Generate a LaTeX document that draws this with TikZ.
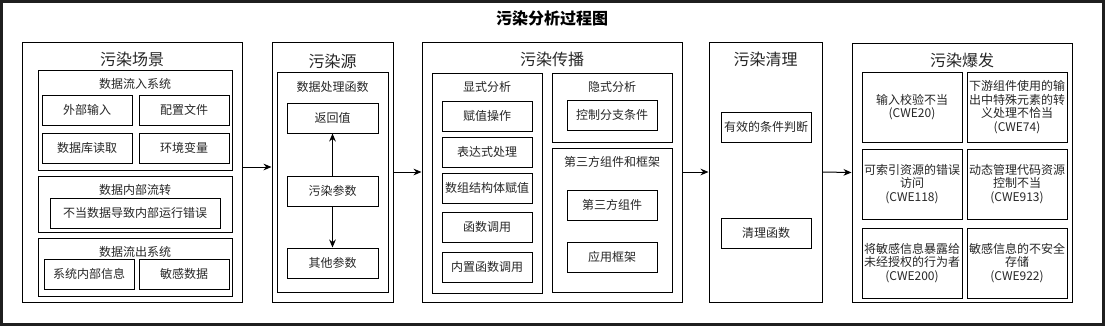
\documentclass[tikz,border=0pt]{standalone}
\usepackage{fontspec}
\setmainfont{Noto Sans CJK SC}
\usetikzlibrary{arrows.meta}
\begin{document}
\begin{tikzpicture}[x=0.75pt,y=-0.75pt,
  box/.style={draw=black, line width=0.75pt, inner sep=0pt, align=center, font=\fontsize{9pt}{10.3pt}\selectfont, text=black!85},
  sz/.style 2 args={minimum width=#1*0.75pt, minimum height=#2*0.75pt},
  lbl/.style={inner sep=0pt, font=\fontsize{9pt}{10.5pt}\selectfont, text=black!85},
  ttl/.style={inner sep=0pt, font=\fontsize{12pt}{14pt}\selectfont, text=black!85},
  arr/.style={-{Stealth[length=6pt,width=5pt]}, line width=0.75pt}]
\useasboundingbox (0,0) rectangle (1105,326);
\draw[line width=2.4pt, color=black!88] (1.6,1.6) rectangle (1103.2,324.2);
\node[inner sep=0pt, font=\bfseries\fontsize{12pt}{14pt}\selectfont] (title) at (552,18) {污染分析过程图};

% Section 1
\node[box, sz={220}{260}] (S1) at (132,172) {};
\node[ttl] (t1) at (132,59) {污染场景};
\node[box, sz={194}{100}] (A) at (135,120) {};
\node[lbl] (la) at (135,84) {数据流入系统};
\node[box, sz={90}{30}] (a1) at (87,110) {外部输入};
\node[box, sz={90}{30}] (a2) at (184,110) {配置文件};
\node[box, sz={90}{30}] (a3) at (87,148) {数据库读取};
\node[box, sz={90}{30}] (a4) at (184,148) {环境变量};
\node[box, sz={194}{56}] (B) at (135,204) {};
\node[lbl] (lb) at (135,190) {数据内部流转};
\node[box, sz={170}{30}] (b1) at (135,213) {不当数据导致内部运行错误};
\node[box, sz={194}{58}] (C) at (135,267) {};
\node[lbl] (lc) at (135,252) {数据流出系统};
\node[box, sz={90}{30}] (c1) at (89,274) {系统内部信息};
\node[box, sz={90}{30}] (c2) at (184,274) {敏感数据};

% Section 2
\node[box, sz={121}{260}] (S2) at (332.5,172) {};
\node[ttl] (t2) at (332.5,61) {污染源};
\node[box, sz={111}{220}] (D) at (332.5,182) {};
\node[lbl] (ld) at (332.5,87) {数据处理函数};
\node[box, sz={91}{30}] (d1) at (332.5,118) {返回值};
\node[box, sz={91}{30}] (d2) at (332.5,191) {污染参数};
\node[box, sz={91}{30}] (d3) at (332.5,263) {其他参数};
\draw[arr] (d2) -- (d1);
\draw[arr] (d2) -- (d3);

% Section 3
\node[box, sz={260}{260}] (S3) at (552,172) {};
\node[ttl] (t3) at (552,59) {污染传播};
\node[box, sz={110}{220}] (E) at (487,183) {};
\node[lbl] (le) at (487,87) {显式分析};
\node[box, sz={90}{30}] (e1) at (487,116) {赋值操作};
\node[box, sz={90}{30}] (e2) at (487,152) {表达式处理};
\node[box, sz={90}{30}] (e3) at (487,188) {数组结构体赋值};
\node[box, sz={90}{30}] (e4) at (487,227) {函数调用};
\node[box, sz={90}{30}] (e5) at (487,267) {内置函数调用};
\node[box, sz={120}{69}] (F) at (612,107.5) {};
\node[lbl] (lf) at (612,87) {隐式分析};
\node[box, sz={90}{30}] (f1) at (612,115) {控制分支条件};
\node[box, sz={120}{144}] (G) at (612,220) {};
\node[lbl] (lg) at (612,162) {第三方组件和框架};
\node[box, sz={90}{30}] (g1) at (612,205) {第三方组件};
\node[box, sz={90}{30}] (g2) at (612,257) {应用框架};

% Section 4
\node[box, sz={113}{260}] (S4) at (765.5,172) {};
\node[ttl] (t4) at (765.5,59) {污染清理};
\node[box, sz={90}{30}] (h1) at (766,127) {有效的条件判断};
\node[box, sz={90}{30}] (h2) at (766,233) {清理函数};

% Section 5
\node[box, sz={220}{259}] (S5) at (962,172.5) {};
\node[ttl] (t5) at (962,60) {污染爆发};
\node[box, sz={100}{70}] (k1) at (912,107) {输入校验不当\\(CWE20)};
\node[box, sz={100}{70}] (k2) at (1017,107) {下游组件使用的输\\出中特殊元素的转\\义处理不恰当\\(CWE74)};
\node[box, sz={100}{70}] (k3) at (912,184) {可索引资源的错误\\访问\\(CWE118)};
\node[box, sz={100}{70}] (k4) at (1017,184) {动态管理代码资源\\控制不当\\(CWE913)};
\node[box, sz={100}{70}] (k5) at (912,263) {将敏感信息暴露给\\未经授权的行为者\\(CWE200)};
\node[box, sz={100}{70}] (k6) at (1017,263) {敏感信息的不安全\\存储\\(CWE922)};

% Connectors between sections
\draw[arr] ([yshift=3.75pt]S1.east) -- ([yshift=3.75pt]S2.west);
\draw[arr] (S2.east) -- (S3.west);
\draw[arr] (S3.east) -- (S4.west);
\draw[arr] (S4.east) -- (S5.west);
\end{tikzpicture}
\end{document}
